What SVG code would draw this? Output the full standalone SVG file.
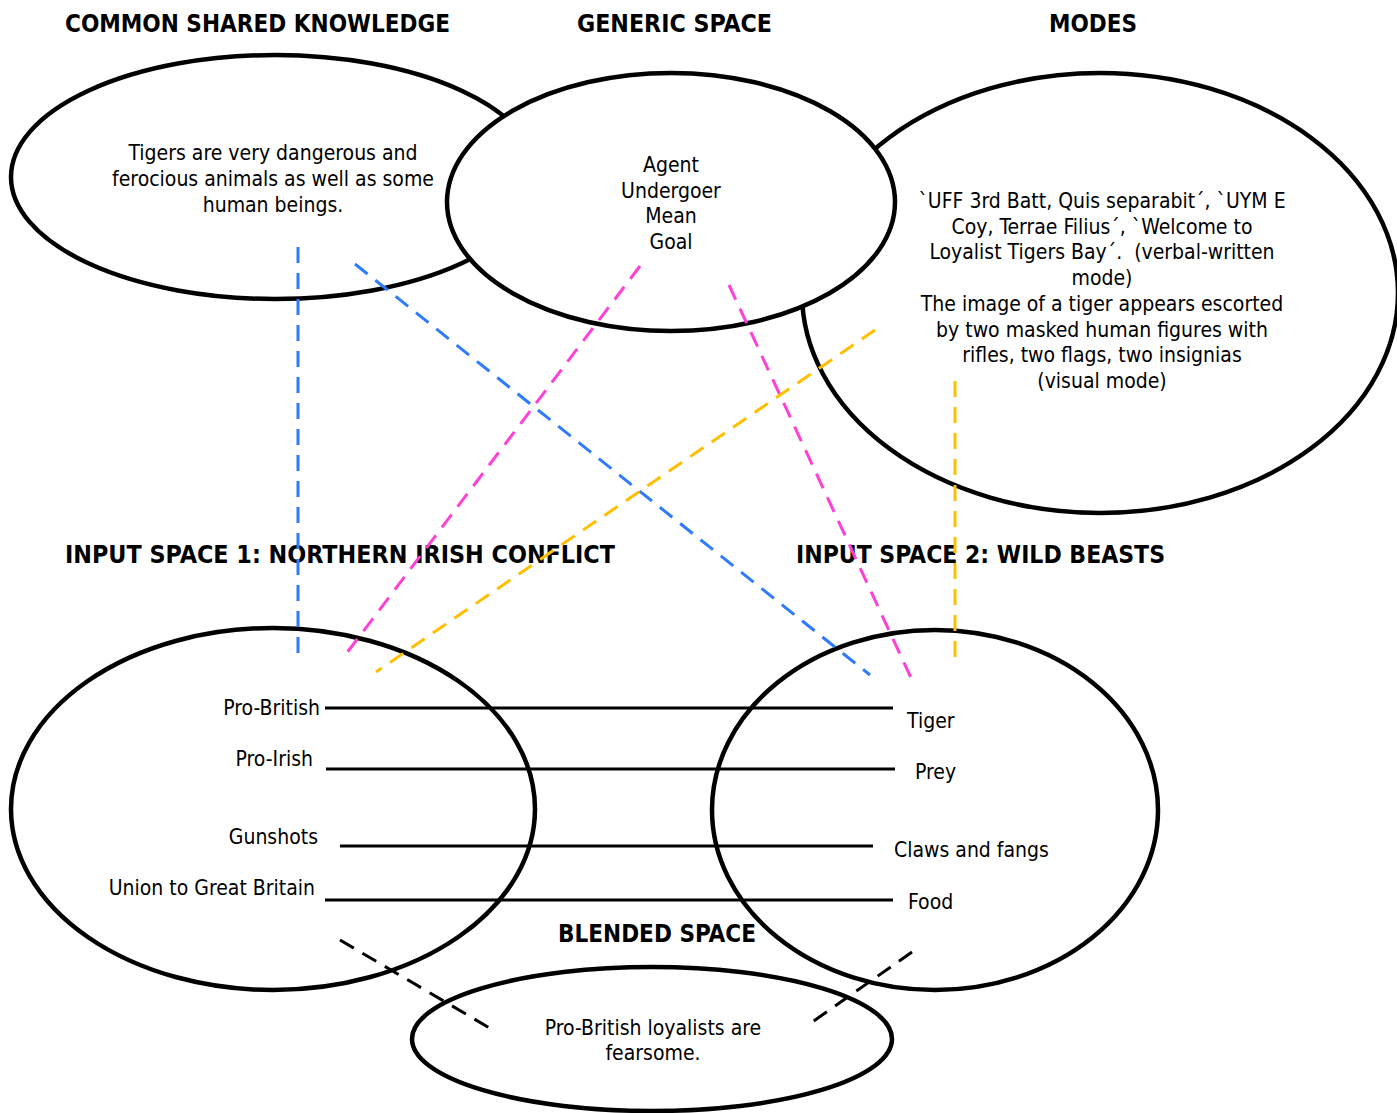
<svg xmlns="http://www.w3.org/2000/svg" width="1397" height="1113" viewBox="0 0 1397 1113">
  <style>
    .space { fill: #ffffff; stroke: #000000; stroke-width: 4.5; }
    .title { font-family: "DejaVu Sans Condensed", "DejaVu Sans", sans-serif; font-weight: bold; font-size: 24px; fill: #000000; }
    .body { font-family: "DejaVu Sans Condensed", "DejaVu Sans", sans-serif; font-size: 21px; fill: #000000; }
    .mid { text-anchor: middle; }
    .end { text-anchor: end; }
    .map { stroke: #000000; stroke-width: 3; fill: none; }
    .dash { stroke-width: 3; fill: none; stroke-dasharray: 16 10; }
    .blue { stroke: #2f7bff; }
    .pink { stroke: #ff3fd6; }
    .gold { stroke: #ffbf00; }
    .black { stroke: #000000; }
  </style>

  <rect width="1397" height="1113" fill="#ffffff"/>

  <!-- headings -->
  <g id="headings">
    <text class="title" x="65" y="32" textLength="385" lengthAdjust="spacingAndGlyphs">COMMON SHARED KNOWLEDGE</text>
    <text class="title" x="577" y="32" textLength="195" lengthAdjust="spacingAndGlyphs">GENERIC SPACE</text>
    <text class="title" x="1049" y="32" textLength="88" lengthAdjust="spacingAndGlyphs">MODES</text>
    <text class="title" x="65" y="563" textLength="550" lengthAdjust="spacingAndGlyphs">INPUT SPACE 1: NORTHERN IRISH CONFLICT</text>
    <text class="title" x="796" y="563" textLength="369" lengthAdjust="spacingAndGlyphs">INPUT SPACE 2: WILD BEASTS</text>
    <text class="title" x="558" y="942" textLength="198" lengthAdjust="spacingAndGlyphs">BLENDED SPACE</text>
  </g>

  <!-- top row of spaces -->
  <g id="common-knowledge">
    <ellipse class="space" cx="275" cy="177" rx="264" ry="122"/>
    <text class="body mid" x="273" y="160">Tigers are very dangerous and</text>
    <text class="body mid" x="273" y="186">ferocious animals as well as some</text>
    <text class="body mid" x="273" y="212">human beings.</text>
  </g>

  <g id="modes">
    <ellipse class="space" cx="1100" cy="293" rx="298" ry="220"/>
    <text class="body mid" x="1102" y="208">`UFF 3rd Batt, Quis separabit´, `UYM E</text>
    <text class="body mid" x="1102" y="234">Coy, Terrae Filius´, `Welcome to</text>
    <text class="body mid" x="1102" y="259" xml:space="preserve">Loyalist Tigers Bay´.  (verbal-written</text>
    <text class="body mid" x="1102" y="285">mode)</text>
    <text class="body mid" x="1102" y="311">The image of a tiger appears escorted</text>
    <text class="body mid" x="1102" y="337">by two masked human figures with</text>
    <text class="body mid" x="1102" y="362">rifles, two flags, two insignias</text>
    <text class="body mid" x="1102" y="388">(visual mode)</text>
  </g>

  <g id="generic-space">
    <ellipse class="space" cx="671" cy="202" rx="224" ry="129"/>
    <text class="body mid" x="671" y="172">Agent</text>
    <text class="body mid" x="671" y="198">Undergoer</text>
    <text class="body mid" x="671" y="223">Mean</text>
    <text class="body mid" x="671" y="249">Goal</text>
  </g>

  <!-- input spaces -->
  <g id="input-space-1">
    <ellipse class="space" cx="273" cy="809" rx="262" ry="181"/>
    <text class="body end" x="320" y="715">Pro-British</text>
    <text class="body end" x="313" y="766">Pro-Irish</text>
    <text class="body end" x="318" y="844">Gunshots</text>
    <text class="body end" x="315" y="895">Union to Great Britain</text>
  </g>

  <g id="input-space-2">
    <ellipse class="space" cx="935" cy="810" rx="223" ry="180"/>
    <text class="body" x="907" y="728">Tiger</text>
    <text class="body" x="915" y="779">Prey</text>
    <text class="body" x="894" y="857">Claws and fangs</text>
    <text class="body" x="908" y="909">Food</text>
  </g>

  <g id="blended-space">
    <ellipse class="space" cx="652" cy="1039" rx="240" ry="72"/>
    <text class="body mid" x="653" y="1035">Pro-British loyalists are</text>
    <text class="body mid" x="653" y="1060">fearsome.</text>
  </g>

  <!-- mappings and projections -->
  <g id="connectors">
    <line class="map" x1="325" y1="708" x2="893" y2="708"/>
    <line class="map" x1="326" y1="769" x2="895" y2="769"/>
    <line class="map" x1="340" y1="846" x2="873" y2="846"/>
    <line class="map" x1="325" y1="900" x2="893" y2="900"/>

    <line class="dash blue" x1="298" y1="247" x2="298" y2="655"/>
    <line class="dash blue" x1="355" y1="264" x2="870" y2="675"/>
    <line class="dash pink" x1="640" y1="266" x2="343" y2="658"/>
    <line class="dash pink" x1="729" y1="285" x2="912" y2="680"/>
    <line class="dash gold" x1="875" y1="330" x2="376" y2="672"/>
    <line class="dash gold" x1="955" y1="381" x2="955" y2="661"/>
    <line class="dash black" x1="340" y1="940" x2="493" y2="1030"/>
    <line class="dash black" x1="912" y1="952" x2="808" y2="1025"/>
  </g>
</svg>
